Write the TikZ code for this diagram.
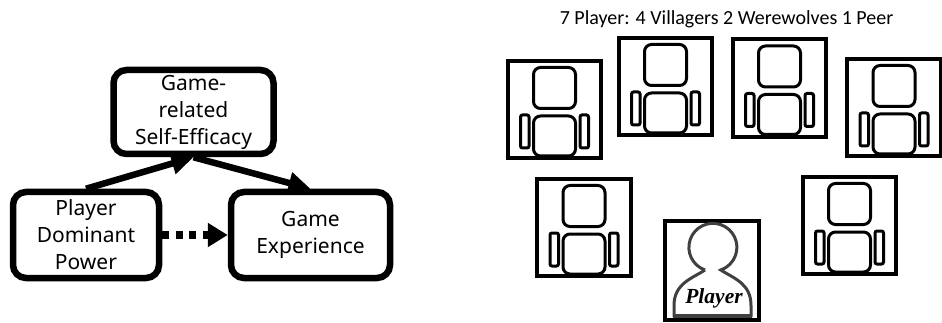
\documentclass[tikz,border=0pt]{standalone}
\usepackage{fontspec}
\setmainfont{Noto Sans}
\newfontfamily\titlefont{Carlito}
\newfontfamily\playerfont{Liberation Serif}
\usetikzlibrary{arrows.meta}
\begin{document}
\begin{tikzpicture}[x=1pt,y=-1pt,font=\fontsize{21}{27}\selectfont]
\useasboundingbox (0,0) rectangle (942,323);
% Two box styles: factor and seat
\tikzstyle{factor node}=[draw,line width=6.5pt,rounded corners=13pt,align=center,inner sep=0,fill=white];
\tikzstyle{seat node}=[draw,line width=4pt,minimum width=93.5pt,minimum height=97.5pt,inner sep=0];
\tikzstyle{chair line}=[line width=3pt,rounded corners=7pt];
\tikzstyle{factor arrow}=[line width=6.5pt,-{Triangle[length=22pt,width=21pt]}];
% The Model
\node(power)[factor node,minimum width=146pt,minimum height=86pt]at(86,235){Player\\Dominant\\Power};
\node(experience)[factor node,minimum width=159pt,minimum height=86pt]at(310.5,235){Game\\Experience};
\node(efficacy)[factor node,minimum width=160pt,minimum height=84pt]at(193.5,112){Game-\\related\\Self-Efficacy};
\draw[factor arrow](power.north)--(efficacy.south);
\draw[factor arrow](efficacy.south)--(experience.north);
\draw[line width=7.5pt,dash pattern=on 7pt off 6.5pt,-{Triangle[length=20pt,width=23pt]}](power.east)--(experience.west);
% The Table
\node(title)[font=\titlefont\fontsize{20}{22}\selectfont]at(726.5,19){7 Player: 4 Villagers 2 Werewolves 1 Peer};
\foreach \n/\x/\y in {1/554.5/109.5,2/665.5/86.5,3/779.5/88,4/894/107.5,5/584/227.5,6/849.5/225.5}{
\node(seat\n)[seat node]at(\x,\y){};
\begin{scope}[shift={(seat\n.center)}]
\draw[chair line](-21,-42)rectangle(21,-1);
\draw[chair line](-21,6.5)rectangle(21,46.5);
\draw[chair line,rounded corners=2pt](-34,5.5)rectangle(-25.5,38.5);
\draw[chair line,rounded corners=2pt](25.5,5.5)rectangle(34,38.5);
\end{scope}
}
% The Player
\node(seat7)[seat node,minimum height=99.5pt]at(712,270.5){};
\begin{scope}[shift={(seat7.center)}]
\draw[line width=3pt,draw=black!75](-7,-0.5)arc[start angle=250.8,end angle=-70.8,radius=24pt]
..controls(22,8)and(39,13)..(39,35)--(39,46.5);
\draw[line width=3pt,draw=black!75](-7,-0.5)..controls(-20,8)and(-38,13)..(-38,35)--(-38,46.5);
\draw[line width=4pt,draw=black!75](-39,45.5)--(40,45.5);
\end{scope}
\node(player)[font=\playerfont\fontsize{21.5}{24}\selectfont\bfseries\itshape]at(714,298){Player};
\end{tikzpicture}
\end{document}
